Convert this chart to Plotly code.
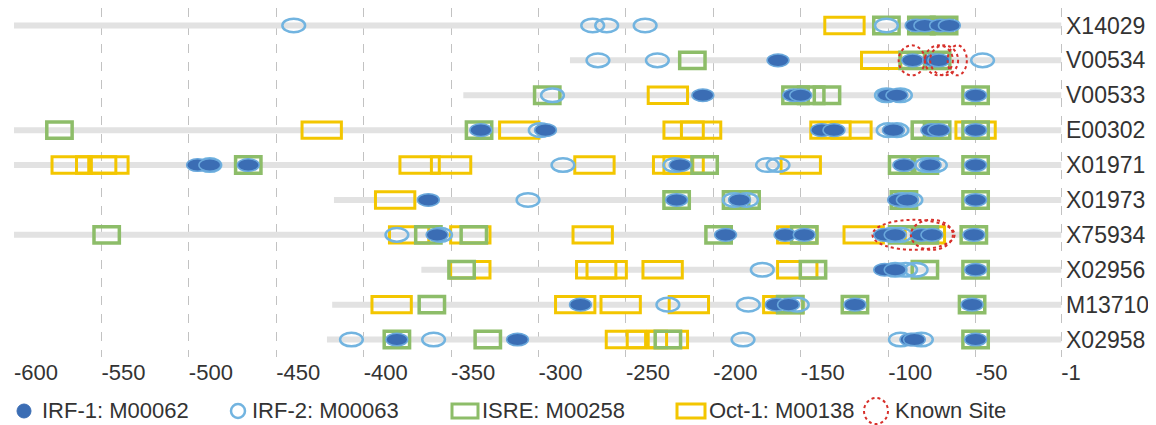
import plotly.graph_objects as go

# ---------------- data ----------------
rows = ["X14029", "V00534", "V00533", "E00302", "X01971",
        "X01973", "X75934", "X02956", "M13710", "X02958"]
seq_start = [-600, -282, -343, -600, -600, -417, -600, -367, -418, -421]
seq_end = -1

irf1_sites = [
    [-84, -79, -70, -65],
    [-163, -86, -74, -71],
    [-206, -154, -150, -100, -95, -50],
    [-333, -296, -138, -131, -97, -75, -71, -50],
    [-495, -488, -466, -219, -91, -76, -50],
    [-363, -221, -185, -94, -89, -50],
    [-358, -193, -159, -148, -102, -96, -81, -75, -51],
    [-102, -96, -50],
    [-276, -164, -157, -119, -52],
    [-381, -312, -87, -85, -50],
]
irf2_sites = [
    [-440, -269, -261, -239, -101],
    [-266, -232, -46],
    [-292, -101, -93],
    [-299, -100, -95],
    [-488, -286, -222, -169, -163, -78, -73],
    [-306, -188, -181, -92, -87],
    [-381, -356, -98, -93],
    [-172, -96, -90, -84],
    [-226, -180, -152],
    [-407, -360, -183, -93, -81],
]
isre_sites = [
    [-101, -81, -68],
    [-212, -86, -72],
    [-295, -153, -144, -135, -50],
    [-574, -334, -79, -72, -50],
    [-466, -205, -92, -79, -50],
    [-221, -187, -181, -91, -50],
    [-547, -363, -337, -197, -148, -92, -79, -51],
    [-344, -143, -79, -50],
    [-361, -156, -119, -52],
    [-381, -329, -226, -50],
]
oct1_sites = [
    [-125],
    [-104],
    [-226],
    [-424, -311, -217, -207, -133, -121, -50],
    [-567, -553, -546, -368, -350, -268, -223, -217, -150],
    [-382],
    [-374, -339, -269, -152, -114, -79],
    [-339, -267, -261, -229, -152],
    [-384, -279, -253, -214, -160],
    [-250, -238, -226],
]
known_row = [1, 1, 1, 1, 6, 6]
known_start = [-94, -79, -76, -66, -109, -87]
known_end = [-79, -63, -60, -55, -62, -63]

x_ticks = [-600, -550, -500, -450, -400, -350, -300, -250, -200, -150, -100, -50, -1]
x_tick_text = ["-600", "-550", "-500", "-450", "-400", "-350", "-300", "-250",
               "-200", "-150", "-100", "-50", "-1"]

legend_labels = ["IRF-1: M00062", "IRF-2: M00063", "ISRE: M00258",
                 "Oct-1: M00138", "Known Site"]

# ---------------- styles ----------------
FONT = "Liberation Sans, Arial, sans-serif"
C_IRF1 = "#3b6db4"
C_IRF1_EDGE = "#6aa8dc"
C_IRF2 = "#72b4e0"
C_ISRE = "#8dbd69"
C_OCT = "#f3c600"
C_KNOWN = "#d7302b"
C_SEQ = "#e2e2e2"
C_TEXT = "#333333"

IRF1_W, IRF1_H = 12.5, 0.36
IRF2_W, IRF2_H = 13.0, 0.39
ISRE_W, ISRE_H = 14.5, 0.47
OCT_W, OCT_H = 22.5, 0.47
KNOWN_H = 0.86

# page body has an 8px margin; figure is sized to fill the rest of the window
OFF = 8
W, H = 1156 - OFF, 425 - OFF
ML, MR, MT, MB = 6, 93, 0, 68
PW, PH = W - ML - MR, H - MT - MB

fig = go.Figure()

# sequence lines
xs, ys = [], []
for i, s in enumerate(seq_start):
    xs += [s, seq_end, None]
    ys += [i, i, None]
fig.add_trace(go.Scatter(x=xs, y=ys, mode="lines",
                         line=dict(color=C_SEQ, width=6),
                         hoverinfo="skip", showlegend=False))

shapes = []


def add_boxes(sites, w, h, color, lw):
    for i, lst in enumerate(sites):
        for p in lst:
            shapes.append(dict(type="rect", xref="x", yref="y",
                               x0=p - w / 2, x1=p + w / 2,
                               y0=i - h / 2, y1=i + h / 2,
                               line=dict(color=color, width=lw),
                               fillcolor="rgba(0,0,0,0)"))


def add_ellipses(sites, w, h, line_color, lw, fill):
    for i, lst in enumerate(sites):
        for p in lst:
            shapes.append(dict(type="circle", xref="x", yref="y",
                               x0=p - w / 2, x1=p + w / 2,
                               y0=i - h / 2, y1=i + h / 2,
                               line=dict(color=line_color, width=lw),
                               fillcolor=fill))


add_boxes(oct1_sites, OCT_W, OCT_H, C_OCT, 3)
add_boxes(isre_sites, ISRE_W, ISRE_H, C_ISRE, 3.5)
add_ellipses(irf2_sites, IRF2_W, IRF2_H, C_IRF2, 2.5, "rgba(0,0,0,0)")
add_ellipses(irf1_sites, IRF1_W, IRF1_H, C_IRF1_EDGE, 1.5, C_IRF1)

for r, s, e in zip(known_row, known_start, known_end):
    shapes.append(dict(type="circle", xref="x", yref="y",
                       x0=s, x1=e, y0=r - KNOWN_H / 2, y1=r + KNOWN_H / 2,
                       line=dict(color=C_KNOWN, width=2, dash="dot"),
                       fillcolor="rgba(0,0,0,0)"))


# ---------------- manual legend (screen pixel positions) ----------------
def px(xs_):
    return (xs_ - OFF - ML) / PW


def py(ys_):
    return (MT + PH - (ys_ - OFF)) / PH


LEG_Y = 411
icon_x = [24, 238, 465, 691, 876]
text_x = [42, 252, 482, 709, 895]
icon_style = [
    dict(type="circle", w=14, h=14, line=dict(color=C_IRF1, width=1), fill=C_IRF1),
    dict(type="circle", w=14, h=14, line=dict(color=C_IRF2, width=2.5), fill="rgba(0,0,0,0)"),
    dict(type="rect", w=26, h=14, line=dict(color=C_ISRE, width=3), fill="rgba(0,0,0,0)"),
    dict(type="rect", w=28, h=14, line=dict(color=C_OCT, width=3), fill="rgba(0,0,0,0)"),
    dict(type="circle", w=24, h=26, line=dict(color=C_KNOWN, width=2, dash="dot"), fill="rgba(0,0,0,0)"),
]
annotations = []
for lab, ix, tx, st in zip(legend_labels, icon_x, text_x, icon_style):
    shapes.append(dict(type=st["type"], xref="paper", yref="paper",
                       x0=px(ix - st["w"] / 2), x1=px(ix + st["w"] / 2),
                       y0=py(LEG_Y + st["h"] / 2), y1=py(LEG_Y - st["h"] / 2),
                       line=st["line"], fillcolor=st["fill"]))
    annotations.append(dict(xref="paper", yref="paper", x=px(tx), y=py(LEG_Y),
                            text=lab, showarrow=False, xanchor="left",
                            yanchor="middle", xshift=-2,
                            font=dict(family=FONT, size=22, color=C_TEXT)))

fig.update_layout(
    width=W, height=H,
    margin=dict(l=ML, r=MR, t=MT, b=MB),
    paper_bgcolor="white", plot_bgcolor="white",
    shapes=shapes, annotations=annotations,
    showlegend=False,
    xaxis=dict(range=[-600, 0], tickvals=x_ticks, ticktext=x_tick_text,
               showgrid=True, gridcolor="#c2c2c2", gridwidth=1, griddash="dash",
               zeroline=False, showline=False, ticks="",
               ticklabelposition="outside right",
               tickfont=dict(family=FONT, size=22, color=C_TEXT)),
    yaxis=dict(range=[9.5, -0.5], tickvals=list(range(len(rows))), ticktext=rows,
               side="right", showgrid=False, zeroline=False, showline=False,
               ticks="", ticklabelstandoff=2,
               tickfont=dict(family=FONT, size=23, color=C_TEXT)),
)

fig.write_html("out.html")
